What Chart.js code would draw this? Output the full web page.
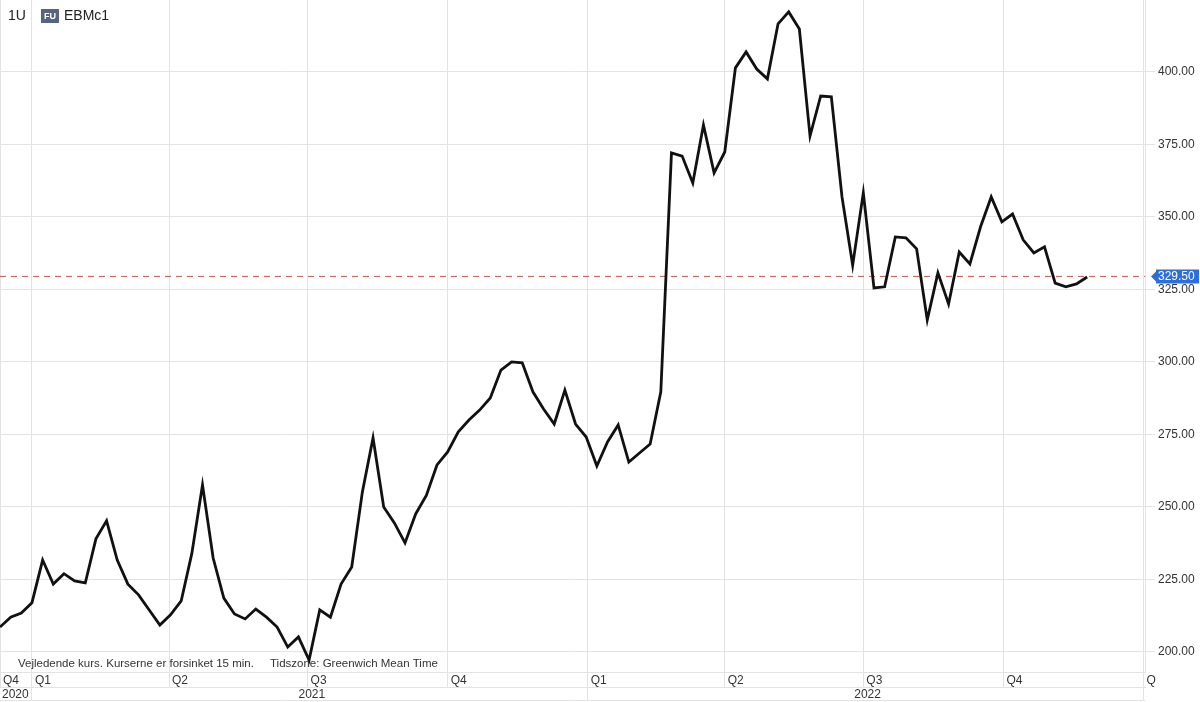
<!DOCTYPE html>
<html>
<head>
<meta charset="utf-8">
<script src="https://cdn.jsdelivr.net/npm/chart.js@4.4.1/dist/chart.umd.min.js"></script>
<style>
  html, body { margin: 0; padding: 0; background: #ffffff; }
  #wrap { position: relative; width: 1200px; height: 702px; }
  canvas { display: block; }
</style>
</head>
<body>
<div id="wrap"><canvas id="c" width="1200" height="702"></canvas></div>
<script>
// ---- data (weekly closes, EBMc1) ----
const firstWeek = '2020-12-11';
const prices = [
  208.6, 212.0, 213.4, 217.0, 231.7, 223.4, 227.0, 224.5, 223.8, 239.0,
  245.2, 231.7, 223.4, 219.7, 214.5, 209.3, 212.8, 217.6, 234.0, 257.6,
  232.4, 218.6, 213.1, 211.4, 214.8, 212.0, 208.6, 201.7, 205.2, 197.2,
  214.5, 212.0, 223.4, 229.3, 255.2, 273.8, 250.0, 244.5, 237.6, 247.6,
  254.0, 264.5, 269.0, 275.9, 280.0, 283.4, 287.6, 297.2, 300.0, 299.7,
  289.7, 283.8, 278.6, 290.3, 278.6, 274.1, 264.1, 272.4, 278.3, 265.5,
  268.6, 271.7, 289.7, 372.1, 371.0, 361.7, 381.7, 365.2, 372.4, 401.4,
  406.9, 401.0, 397.6, 416.6, 420.7, 414.8, 377.9, 391.7, 391.4, 356.9,
  333.4, 358.3, 325.5, 325.9, 343.1, 342.8, 339.0, 314.5, 330.7, 320.0,
  337.9, 333.8, 346.6, 356.9, 348.3, 351.0, 342.1, 337.6, 339.7, 327.2,
  325.9, 326.9, 329.3
];
const lastPrice = 329.50;
const xStart = '2020-12-11';
const xEnd = '2023-01-02';
const leftQuarterLabel = 'Q4';
const quarterStarts = ['2021-01-01','2021-04-01','2021-07-01','2021-10-01','2022-01-01','2022-04-01','2022-07-01','2022-10-01','2023-01-01'];
const quarterLabels = ['Q1','Q2','Q3','Q4','Q1','Q2','Q3','Q4','Q'];
const leftYearLabel = '2020';
const yearStarts = ['2021-01-01','2022-01-01','2023-01-01'];
const yearLabels = ['2021','2022'];
const yTicks = [200, 225, 250, 275, 300, 325, 350, 375, 400];
const yMin = 193.1, yMax = 424.8;
const symbolCode = '1U';
const badgeText = 'FU';
const symbolName = 'EBMc1';
const footLeft = 'Vejledende kurs. Kurserne er forsinket 15 min.';
const footRight = 'Tidszone: Greenwich Mean Time';

// ---- helpers ----
const DAY = 86400000;
const origin = Date.parse('2021-01-01T00:00:00Z');
const day = s => (Date.parse(s + 'T00:00:00Z') - origin) / DAY;
const xMin = day(xStart), xMax = day(xEnd);
const points = prices.map((p, i) => ({ x: day(firstWeek) + 7 * i, y: p }));

const FONT = '"Liberation Sans", Arial, Helvetica, sans-serif';
const GRID = '#e3e3e3';

// quarter ticks
const qTicks = [{ value: xMin, label: leftQuarterLabel }].concat(
  quarterStarts.map((d, i) => ({ value: day(d), label: quarterLabels[i] })));
// year ticks: boundaries (no label) and mid-year labels
const yrTicks = [{ value: xMin, label: leftYearLabel, sep: false }];
yearStarts.forEach((d, i) => {
  yrTicks.push({ value: day(d), label: '', sep: true });
  if (i < yearLabels.length) {
    const mid = (day(d) + day(yearStarts[i + 1])) / 2;
    yrTicks.push({ value: mid, label: yearLabels[i], sep: false });
  }
});

const noPad = s => { s.paddingTop = 0; s.paddingBottom = 0; s.paddingLeft = 0; s.paddingRight = 0; };

const overlay = {
  id: 'overlay',
  beforeDatasetsDraw(chart) {
    const ctx = chart.ctx;
    ctx.save();
    ctx.fillStyle = '#333';
    ctx.font = '11.5px ' + FONT;
    ctx.textBaseline = 'middle';
    ctx.textAlign = 'left';
    ctx.fillText(footLeft, 18, 664);
    ctx.fillText(footRight, 270, 664);
    ctx.restore();
  },
  afterDraw(chart) {
    const ctx = chart.ctx;
    const ys = chart.scales.y;
    const x2 = chart.scales.x2;
    ctx.save();
    // bottom line of the year row
    ctx.strokeStyle = GRID;
    ctx.lineWidth = 1;
    ctx.beginPath();
    ctx.moveTo(0, x2.bottom - 0.5);
    ctx.lineTo(chart.chartArea.right, x2.bottom - 0.5);
    ctx.stroke();

    // header
    ctx.fillStyle = '#222';
    ctx.font = '14px ' + FONT;
    ctx.textBaseline = 'middle';
    ctx.textAlign = 'left';
    ctx.fillText(symbolCode, 8, 16);
    ctx.fillStyle = '#56647f';
    ctx.fillRect(41, 9, 18, 14);
    ctx.fillStyle = '#ffffff';
    ctx.font = 'bold 9px ' + FONT;
    ctx.textAlign = 'center';
    ctx.fillText(badgeText, 50, 16.5);
    ctx.fillStyle = '#222';
    ctx.font = '14px ' + FONT;
    ctx.textAlign = 'left';
    ctx.fillText(symbolName, 64, 16);

    // last price marker
    const py = ys.getPixelForValue(lastPrice);
    const bx = ys.left + 11, bw = 43, bh = 14;
    ctx.fillStyle = '#2d6fd9';
    ctx.beginPath();
    ctx.moveTo(bx - 5, py);
    ctx.lineTo(bx, py - 5);
    ctx.lineTo(bx, py - bh / 2);
    ctx.lineTo(bx + bw, py - bh / 2);
    ctx.lineTo(bx + bw, py + bh / 2);
    ctx.lineTo(bx, py + bh / 2);
    ctx.lineTo(bx, py + 5);
    ctx.closePath();
    ctx.fill();
    ctx.fillStyle = '#ffffff';
    ctx.font = '12px ' + FONT;
    ctx.textAlign = 'left';
    ctx.fillText(lastPrice.toFixed(2), bx + 2, py + 0.5);
    ctx.restore();
  }
};

new Chart(document.getElementById('c'), {
  type: 'line',
  data: {
    datasets: [
      {
        data: points,
        borderColor: '#111111',
        borderWidth: 2.8,
        borderJoinStyle: 'miter',
        pointRadius: 0,
        tension: 0,
        fill: false
      },
      {
        data: [{ x: xMin, y: lastPrice }, { x: xMax, y: lastPrice }],
        borderColor: '#b85858',
        borderWidth: 1,
        borderDash: [6, 5],
        pointRadius: 0,
        fill: false
      }
    ]
  },
  options: {
    responsive: false,
    animation: false,
    devicePixelRatio: 1,
    layout: { padding: { left: 0, right: 0, top: 0, bottom: 1 } },
    plugins: { legend: { display: false }, tooltip: { enabled: false } },
    scales: {
      x: {
        type: 'linear',
        position: 'bottom',
        weight: 0,
        min: xMin,
        max: xMax,
        afterBuildTicks: s => { s.ticks = qTicks.map(t => ({ value: t.value })); },
        afterFit: s => { s.height = 15; noPad(s); },
        grid: { color: GRID, lineWidth: 1, drawTicks: true, tickLength: 15 },
        border: { display: true, color: GRID },
        ticks: {
          autoSkip: false,
          maxRotation: 0,
          align: 'start',
          padding: -14,
          labelOffset: 3,
          color: '#333',
          font: { family: FONT, size: 12 },
          callback: (v, i) => qTicks[i] ? qTicks[i].label : ''
        }
      },
      x2: {
        type: 'linear',
        position: 'bottom',
        weight: 1,
        min: xMin,
        max: xMax,
        afterBuildTicks: s => { s.ticks = yrTicks.map(t => ({ value: t.value })); },
        afterFit: s => { s.height = 14; noPad(s); },
        grid: {
          drawOnChartArea: false,
          drawTicks: true,
          tickLength: 14,
          lineWidth: 1,
          color: c => (yrTicks[c.index] && yrTicks[c.index].sep) ? GRID : 'rgba(0,0,0,0)'
        },
        border: { display: true, color: GRID },
        ticks: {
          autoSkip: false,
          maxRotation: 0,
          align: 'inner',
          padding: -14,
          labelOffset: 2,
          color: '#333',
          font: { family: FONT, size: 12 },
          callback: (v, i) => yrTicks[i] ? yrTicks[i].label : ''
        }
      },
      y: {
        type: 'linear',
        position: 'right',
        min: yMin,
        max: yMax,
        afterBuildTicks: s => { s.ticks = yTicks.map(v => ({ value: v })); },
        afterFit: s => { s.width = 55; noPad(s); },
        grid: { color: GRID, lineWidth: 1, drawTicks: true, tickLength: 10 },
        border: { display: true, color: GRID },
        ticks: {
          padding: 3,
          color: '#333',
          font: { family: FONT, size: 12 },
          callback: v => Number(v).toFixed(2)
        }
      }
    }
  },
  plugins: [overlay]
});
</script>
</body>
</html>
